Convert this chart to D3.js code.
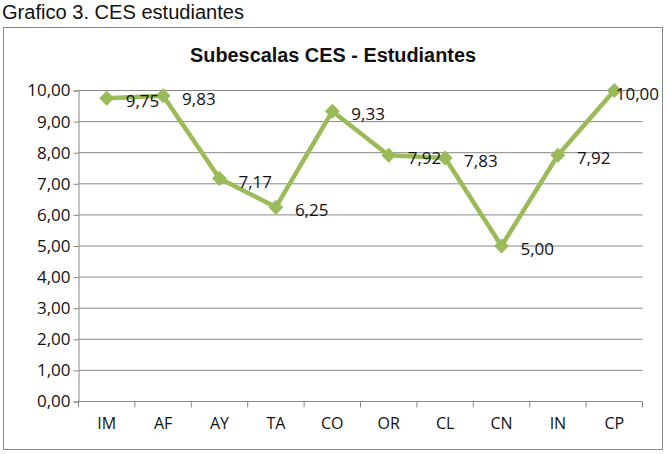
<!DOCTYPE html>
<html><head><meta charset="utf-8">
<script src="https://cdn.jsdelivr.net/npm/d3@7"></script>
<style>body{margin:0;background:#fff}svg{display:block}</style>
</head><body>
<script>
const categories = ["IM","AF","AY","TA","CO","OR","CL","CN","IN","CP"];
const values = [9.75,9.83,7.17,6.25,9.33,7.92,7.83,5.00,7.92,10.00];
const yTicks = [0,1,2,3,4,5,6,7,8,9,10];
const heading = "Grafico 3. CES estudiantes";
const chartTitle = "Subescalas CES - Estudiantes";

const W = 669, H = 454;
const svg = d3.select("body").append("svg").attr("width", W).attr("height", H);
const fmt = v => v.toFixed(2).replace(".", ",");
const lab = "'Open Sans', sans-serif";

svg.append("text").attr("x", 2).attr("y", 19).text(heading)
  .attr("font-family", "'Liberation Sans', Arial, sans-serif").attr("font-size", 19.5).attr("fill", "#111")
  .attr("textLength", 242).attr("lengthAdjust", "spacingAndGlyphs");

svg.append("rect").attr("x", 3.5).attr("y", 27.5).attr("width", 659).attr("height", 422)
  .attr("fill", "#fff").attr("stroke", "#8a8a8a").attr("stroke-width", 1);

svg.append("text").attr("x", 333).attr("y", 62).attr("text-anchor", "middle").text(chartTitle)
  .attr("font-family", "'Liberation Sans', Arial, sans-serif").attr("font-weight", "bold").attr("font-size", 19.5).attr("fill", "#111")
  .attr("textLength", 286).attr("lengthAdjust", "spacingAndGlyphs");

const x = d3.scaleBand().domain(categories).range([78.5, 642.5]);
const y = d3.scaleLinear().domain([0, 10]).range([401.5, 90.5]);

// gridlines
svg.append("g").selectAll("line").data(yTicks.slice(1)).join("line")
  .attr("x1", x.range()[0]).attr("x2", x.range()[1])
  .attr("y1", d => y(d)).attr("y2", d => y(d))
  .attr("stroke", "#888").attr("stroke-width", 1);

// y axis
const ya = svg.append("g").attr("transform", `translate(${x.range()[0]},0)`)
  .call(d3.axisLeft(y).tickValues(yTicks).tickFormat(fmt).tickSize(5).tickPadding(3));
ya.select(".domain").attr("stroke", "#888");
ya.selectAll(".tick line").attr("stroke", "#888");
ya.selectAll("text").attr("font-family", lab).attr("font-size", 17).attr("fill", "#111");

// x axis
const xa = svg.append("g").attr("transform", `translate(0,${y(0)})`)
  .call(d3.axisBottom(x).tickSize(0).tickPadding(16));
xa.select(".domain").attr("stroke", "#888").attr("d", `M${x.range()[0]},0H${x.range()[1]}`);
xa.selectAll("text").attr("font-family", lab).attr("font-size", 16).attr("fill", "#111");
xa.selectAll(".bnd").data(categories.concat(["_end"])).join("line")
  .attr("x1", (d,i) => x.range()[0] + i * x.step()).attr("x2", (d,i) => x.range()[0] + i * x.step())
  .attr("y1", 0).attr("y2", 6).attr("stroke", "#888");

const cx = d => x(d) + x.bandwidth() / 2;
const line = d3.line().x((d,i) => cx(categories[i])).y(d => y(d));
svg.append("path").datum(values).attr("d", line)
  .attr("fill", "none").attr("stroke", "#9bbb59").attr("stroke-width", 4.5).attr("stroke-linejoin", "round");

svg.append("g").selectAll("path").data(values).join("path")
  .attr("transform", (d,i) => `translate(${cx(categories[i])},${y(d)})`)
  .attr("d", "M0,-7.5L7.5,0L0,7.5L-7.5,0Z").attr("fill", "#9bbb59");

svg.append("g").selectAll("text").data(values).join("text")
  .attr("x", (d,i) => cx(categories[i]) + 19).attr("y", d => y(d) + 9)
  .text(fmt).attr("font-family", lab).attr("font-size", 17).attr("fill", "#111")
  .each(function() {
    const t = d3.select(this);
    const w = this.getComputedTextLength();
    const x0 = +t.attr("x");
    if (x0 + w > 659) t.attr("x", 659 - w);
  });
</script>
</body></html>
